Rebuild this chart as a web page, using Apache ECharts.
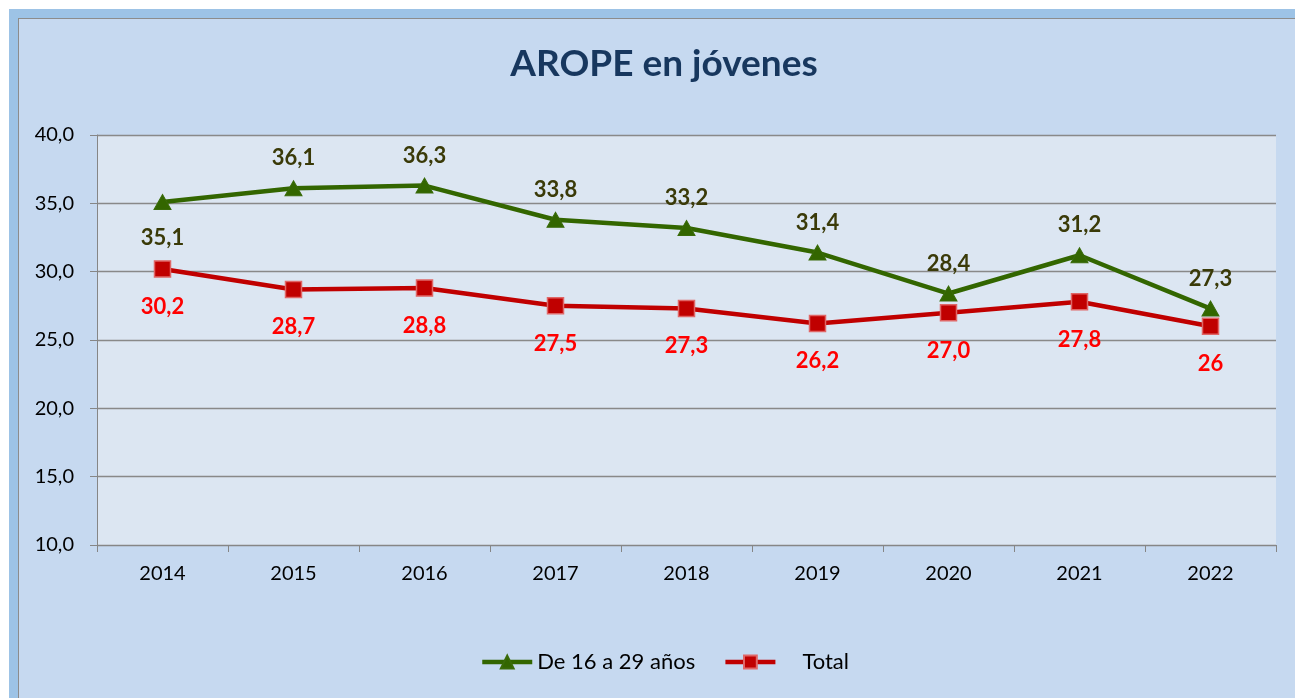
<!DOCTYPE html>
<html>
<head>
<meta charset="utf-8">
<script src="https://cdn.jsdelivr.net/npm/echarts@6/dist/echarts.min.js"></script>
<style>
  html, body { margin: 0; padding: 0; background: #ffffff; }
  #frame {
    position: absolute; left: 9px; top: 9px; width: 1400px; height: 800px;
    background: #9dc3e6;
  }
  #panel {
    position: absolute; left: 18px; top: 18px; width: 1400px; height: 800px;
    background: #c6d9f0; border-left: 1px solid #8c8c8c; border-top: 1px solid #8c8c8c;
  }
  #chart { position: absolute; left: 0; top: 0; width: 1295px; height: 698px; }
</style>
</head>
<body>
<div id="frame"></div>
<div id="panel"></div>
<div id="chart"></div>
<script>
// years on the x axis
const years = ["2014", "2015", "2016", "2017", "2018", "2019", "2020", "2021", "2022"];
// AROPE rate, 16-29 years old
const jovenes = [35.1, 36.1, 36.3, 33.8, 33.2, 31.4, 28.4, 31.2, 27.3];
// AROPE rate, total population
const total = [30.2, 28.7, 28.8, 27.5, 27.3, 26.2, 27.0, 27.8, 26];
// labels as printed on the chart for the total series
const totalLabels = ["30,2", "28,7", "28,8", "27,5", "27,3", "26,2", "27,0", "27,8", "26"];

const fontFam = "Lato, 'Open Sans', sans-serif";
const fmt = (v) => v.toFixed(1).replace(".", ",");

const chart = echarts.init(document.getElementById("chart"));

chart.setOption({
  backgroundColor: "transparent",
  animation: false,
  title: {
    text: "AROPE en jóvenes",
    left: 659,
    top: 41,
    textAlign: "center",
    textStyle: { color: "#17375e", fontSize: 37, fontWeight: "bold", fontFamily: fontFam },
  },
  grid: { left: 97, top: 135, right: 19, bottom: 153 },
  legend: {
    bottom: 20,
    left: 475,
    itemWidth: 50,
    itemHeight: 16,
    itemGap: 28,
    lineStyle: { width: 4.5 },
    textStyle: { color: "#000", fontSize: 22, fontFamily: fontFam },
    data: [
      { name: "De 16 a 29 años" },
      { name: "Total", textStyle: { padding: [0, 0, 0, 22] } },
    ],
  },
  xAxis: {
    type: "category",
    data: years,
    boundaryGap: true,
    axisLine: { lineStyle: { color: "#868686", width: 1 } },
    axisTick: { show: true, length: 7, lineStyle: { color: "#868686" } },
    axisLabel: { color: "#000", fontSize: 20, margin: 19, fontFamily: fontFam },
  },
  yAxis: {
    type: "value",
    min: 10,
    max: 40,
    interval: 5,
    axisLine: { show: true, lineStyle: { color: "#868686", width: 1 } },
    axisTick: { show: true, length: 7, lineStyle: { color: "#868686" } },
    axisLabel: { color: "#000", fontSize: 20, margin: 23, fontFamily: fontFam, formatter: (v) => fmt(v) },
    splitLine: { lineStyle: { color: "#898989", width: 1.3 } },
    splitArea: { show: true, areaStyle: { color: ["#dce6f2", "#dce6f2"] } },
  },
  series: [
    {
      name: "De 16 a 29 años",
      type: "line",
      data: jovenes,
      symbol: "triangle",
      symbolSize: [17, 15],
      lineStyle: { color: "#336600", width: 4.5 },
      itemStyle: { color: "#336600", borderColor: "#3a6b0a", borderWidth: 1 },
      label: {
        show: true,
        position: "top",
        distance: 11,
        color: "#3a3a08",
        fontSize: 22,
        fontWeight: "bold",
        fontFamily: fontFam,
        formatter: (p) => fmt(p.value),
      },
      labelLayout: (p) => (p.dataIndex === 0 ? { dy: 66 } : {}),
      z: 3,
    },
    {
      name: "Total",
      type: "line",
      data: total,
      symbol: "rect",
      symbolSize: 16,
      lineStyle: { color: "#c00000", width: 4.5 },
      itemStyle: { color: "#c00000", borderColor: "#e06666", borderWidth: 1.5 },
      label: {
        show: true,
        position: "bottom",
        distance: 18,
        color: "#ff0000",
        fontSize: 22,
        fontWeight: "bold",
        fontFamily: fontFam,
        formatter: (p) => totalLabels[p.dataIndex],
      },
      z: 2,
    },
  ],
});
</script>
</body>
</html>
